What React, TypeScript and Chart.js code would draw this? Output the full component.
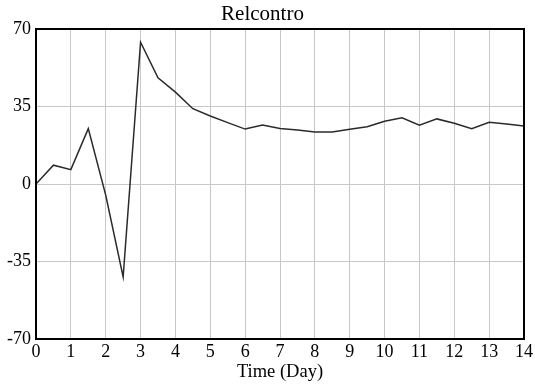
import React, { useEffect, useRef } from "react";
import { Chart, registerables } from "chart.js";

Chart.register(...registerables);

const titleText = "Relcontro";
const xAxisTitle = "Time (Day)";
const times = [0, 0.5, 1, 1.5, 2, 2.5, 3, 3.5, 4, 4.5, 5, 5.5, 6, 6.5, 7, 7.5, 8, 8.5, 9, 9.5, 10, 10.5, 11, 11.5, 12, 12.5, 13, 13.5, 14];
const relcontro = [0, 8.5, 6.5, 25, -5, -42, 64, 48, 41.5, 34, 30.7, 27.7, 24.8, 26.6, 25.1, 24.4, 23.5, 23.5, 24.7, 25.9, 28.3, 29.9, 26.6, 29.4, 27.4, 25, 27.9, 27.1, 26.2];
const yTicks = [-70, -35, 0, 35, 70];

const FONT = "'Liberation Serif', 'Times New Roman', serif";

const frame = {
  id: "frame",
  afterDraw(chart: any) {
    const { ctx, chartArea } = chart;
    const { left, top, right, bottom } = chartArea;
    ctx.save();
    ctx.strokeStyle = "#000";
    ctx.lineWidth = 2;
    ctx.strokeRect(left, top, right - left, bottom - top);
    ctx.restore();
  },
};

export default function App() {
  const ref = useRef<HTMLCanvasElement | null>(null);
  useEffect(() => {
    if (!ref.current) return;
    const chart = new Chart(ref.current, {
      type: "line",
      data: {
        datasets: [
          {
            data: times.map((t, i) => ({ x: t, y: relcontro[i] })),
            borderColor: "#2a2a2a",
            borderWidth: 1.5,
            pointRadius: 0,
            tension: 0,
            fill: false,
          },
        ],
      },
      options: {
        animation: false,
        responsive: true,
        maintainAspectRatio: false,
        layout: { padding: { left: 0, right: 10, top: 0, bottom: 0 } },
        plugins: {
          legend: { display: false },
          tooltip: { enabled: false },
          title: {
            display: true,
            text: titleText,
            color: "#000",
            font: { family: FONT, size: 21, weight: "normal", lineHeight: 1.2 },
            padding: { top: 2.3, bottom: 1.5 },
          },
        },
        scales: {
          x: {
            type: "linear",
            min: 0,
            max: 14,
            afterFit(scale: any) {
              scale.height = 45;
            },
            ticks: {
              stepSize: 1,
              color: "#000",
              padding: 2,
              maxRotation: 0,
              autoSkip: false,
              font: { family: FONT, size: 18, lineHeight: 1.2 },
            },
            grid: { color: "#c8c8c8", lineWidth: 1, drawTicks: false },
            border: { display: false },
            title: {
              display: true,
              text: xAxisTitle,
              color: "#000",
              font: { family: FONT, size: 18.5, lineHeight: 1.2 },
              padding: { top: 0, bottom: 1 },
            },
          },
          y: {
            type: "linear",
            min: -70,
            max: 70,
            afterFit(scale: any) {
              scale.width = 36;
            },
            afterBuildTicks(scale: any) {
              scale.ticks = yTicks.map((v) => ({ value: v }));
            },
            ticks: {
              color: "#000",
              padding: 5,
              font: { family: FONT, size: 18, lineHeight: 1.2 },
            },
            grid: { color: "#c8c8c8", lineWidth: 1, drawTicks: false },
            border: { display: false },
          },
        },
      },
      plugins: [frame],
    });
    return () => chart.destroy();
  }, []);
  return (
    <div style={{ position: "absolute", left: 0, top: 0, width: 535, height: 384, background: "#fff" }}>
      <canvas ref={ref} />
    </div>
  );
}
